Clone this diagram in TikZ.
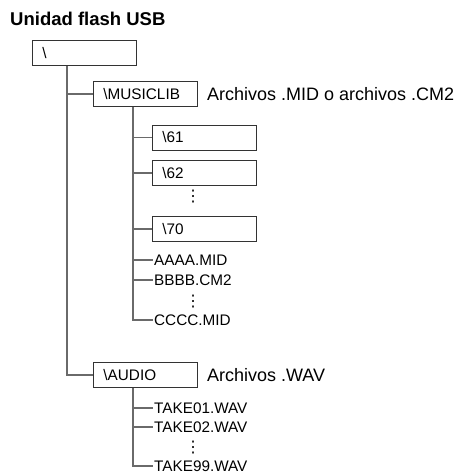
\documentclass[tikz,border=0pt]{standalone}
\usepackage{fontspec}
\setmainfont{Liberation Sans}
\newfontfamily\dotsfont{DejaVu Sans}
\usepackage{xcolor}
\usetikzlibrary{positioning}
\definecolor{treeline}{HTML}{6A6A6A}
\definecolor{boxline}{HTML}{333333}

\begin{document}
\begin{tikzpicture}[
    x=1pt, y=-1pt,
    every node/.style={text=black},
    folder/.style={draw=boxline, line width=0.9pt, anchor=west, text width=84pt,
                   align=left, inner xsep=10pt, inner ysep=0pt, minimum height=25pt,
                   font=\fontsize{15.3}{18}\selectfont},
    file/.style={anchor=west, inner sep=1pt, font=\fontsize{15.3}{18}\selectfont},
    note/.style={inner sep=0pt, font=\fontsize{18}{21}\selectfont},
    title/.style={anchor=west, inner sep=0pt, font=\fontsize{18.5}{22}\selectfont\bfseries},
    vdots/.style={inner sep=0pt, font=\fontsize{16}{16}\selectfont\dotsfont},
    branch/.style={draw=treeline, line width=1.2pt},
  ]
  \useasboundingbox (0,0) rectangle (464,475);

  \node[title] (usb) at (10,19) {Unidad flash USB};
  \node[folder] (root) at (32,53) {\textbackslash};

  \node[folder] (musiclib) at (93,94) {\textbackslash MUSICLIB};
  \node[note, right=9pt of musiclib] (midnote) {Archivos .MID o archivos .CM2};

  \node[folder] (d61) at (152,137.5) {\textbackslash 61};
  \node[folder] (d62) at (152,173) {\textbackslash 62};
  \node[vdots] (dots1) at (193,197) {⋮};
  \node[folder] (d70) at (152,229) {\textbackslash 70};
  \node[file] (aaaa) at (153,260) {AAAA.MID};
  \node[file] (bbbb) at (153,280) {BBBB.CM2};
  \node[vdots] (dots2) at (193,302) {⋮};
  \node[file] (cccc) at (153,320) {CCCC.MID};

  \node[folder] (audio) at (93,375) {\textbackslash AUDIO};
  \node[note, right=9pt of audio] (wavnote) {Archivos .WAV};

  \node[file] (take01) at (153,408) {TAKE01.WAV};
  \node[file] (take02) at (153,427) {TAKE02.WAV};
  \node[vdots] (dots3) at (193,448) {⋮};
  \node[file] (take99) at (153,466) {TAKE99.WAV};

  % root branches
  \draw[branch] ([xshift=35pt]root.south west) |- (audio.west);
  \draw[branch] ([xshift=35pt]root.south west) |- (musiclib.west);

  % \MUSICLIB contents
  \foreach \n in {d61,d62,d70,aaaa,bbbb,cccc}
    \draw[branch] ([xshift=40pt]musiclib.south west) |- (\n.west);

  % \AUDIO contents
  \foreach \n in {take01,take02,take99}
    \draw[branch] ([xshift=40pt]audio.south west) |- (\n.west);
\end{tikzpicture}
\end{document}
